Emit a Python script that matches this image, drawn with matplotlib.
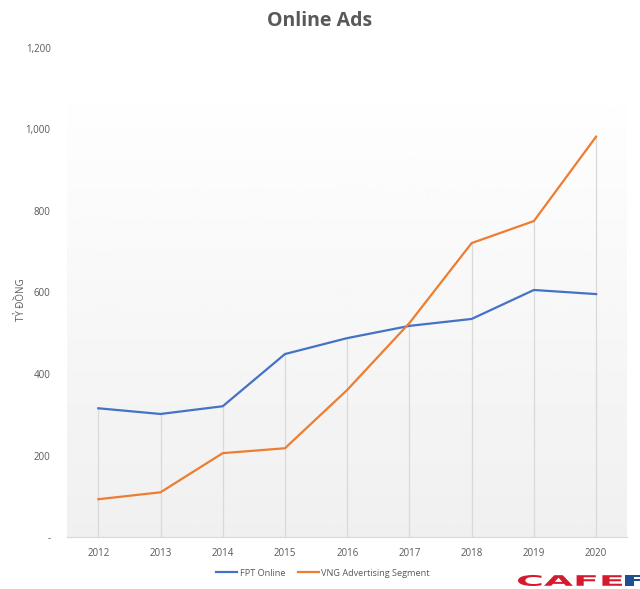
import numpy as np
import matplotlib.pyplot as plt
from matplotlib.textpath import TextPath
from matplotlib.patches import PathPatch
from matplotlib.font_manager import FontProperties
from matplotlib.transforms import Affine2D, IdentityTransform

# data (ty dong)
years = ["2012", "2013", "2014", "2015", "2016", "2017", "2018", "2019", "2020"]
fpt_online = [316, 302, 321, 449, 488, 518, 535, 606, 596]
vng_ads = [93, 110, 206, 218, 361, 525, 721, 775, 982]
y_ticks = [0, 200, 400, 600, 800, 1000, 1200]
y_tick_labels = ["-", "200", "400", "600", "800", "1,000", "1,200"]

plt.rcParams['font.family'] = ['Open Sans', 'DejaVu Sans']
grey_txt = "#595959"

fig = plt.figure(figsize=(6.4, 5.89), dpi=100)
ax = fig.add_axes([0.105, 0.088, 0.875, 0.831])

x = np.arange(len(years))
ax.set_xlim(-0.5, len(years) - 0.5)
ax.set_ylim(0, 1200)

# background gradient (plot area doesn't reach the top tick)
grad = np.linspace(0.995, 0.94, 256).reshape(-1, 1)
ax.imshow(grad, cmap="gray", vmin=0, vmax=1, aspect="auto",
          extent=(-0.5, len(years) - 0.5, 0, 1058), zorder=0)

# drop lines
tops = np.maximum(fpt_online, vng_ads)
ax.vlines(x, 0, tops, color="#d9d9d9", lw=0.9, zorder=1)

ax.plot(x, fpt_online, color="#4472C4", lw=1.6, label="FPT Online", zorder=3)
ax.plot(x, vng_ads, color="#ED7D31", lw=1.6, label="VNG Advertising Segment", zorder=3)

for s in ["top", "right", "left"]:
    ax.spines[s].set_visible(False)
ax.spines["bottom"].set_color("#d9d9d9")

ax.set_xticks(x)
ax.set_xticklabels(years)
ax.set_yticks(y_ticks)
ax.set_yticklabels(y_tick_labels)
ax.tick_params(length=0, labelsize=7, colors=grey_txt)
ax.tick_params(axis="y", pad=12)
ax.tick_params(axis="x", pad=8)

fig.text(0.033, 1 - 300 / 589, "TỶ ĐỒNG", rotation=90, ha="center", va="center",
         fontsize=7, color=grey_txt)

fig.text(0.5, 0.965, "Online Ads", ha="center", va="center",
         fontsize=14, fontweight="bold", color=grey_txt)

fig.legend(loc="center", bbox_to_anchor=(0.505, 1 - 573 / 589), ncol=2,
           frameon=False, fontsize=6.6, labelcolor=grey_txt,
           handlelength=2.3, handletextpad=0.3, columnspacing=1.3)

# CafeF logo-ish mark, stretched text paths in pixel coords
fp = FontProperties(family="DejaVu Sans", weight="bold")
for txt, x0, x1, col in [("CAFE", 518, 622, "#d7192d"), ("F", 625, 650, "#1f4f8f")]:
    p = TextPath((0, 0), txt, size=14, prop=fp)
    ext = p.get_extents()
    sx = (x1 - x0) / ext.width
    sy = 11 / ext.height
    tr = Affine2D().translate(-ext.x0, -ext.y0).scale(sx, sy).translate(x0, 589 - 586)
    fig.add_artist(PathPatch(p, transform=tr + IdentityTransform(),
                             facecolor=col, edgecolor="none"))

fig.savefig("out.png", dpi=100)
